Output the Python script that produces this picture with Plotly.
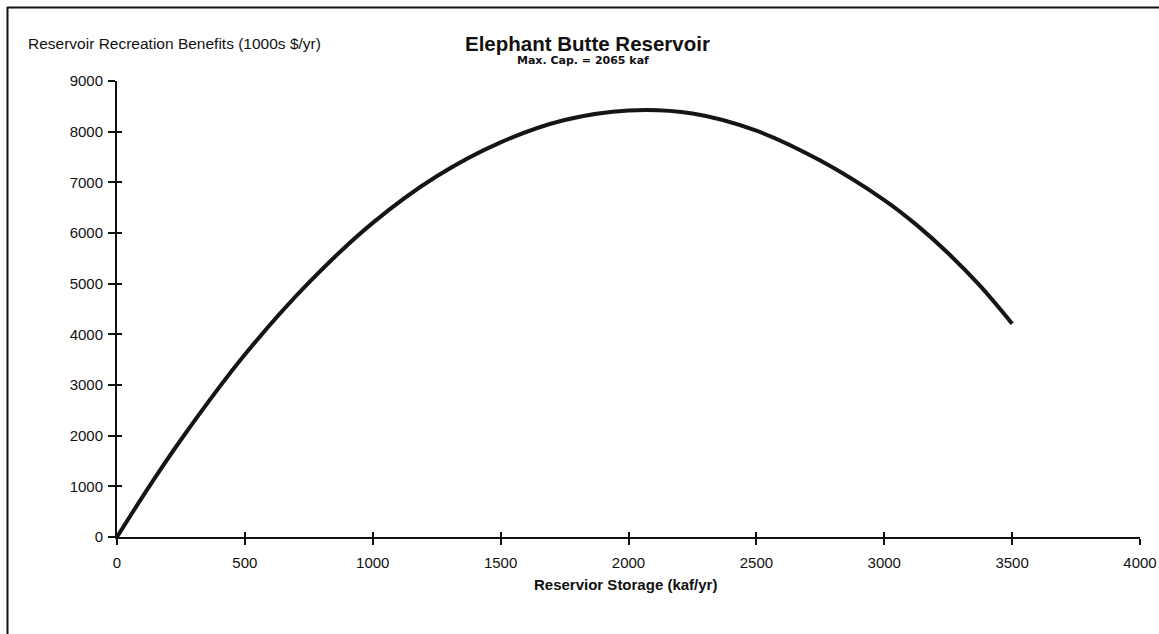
import plotly.graph_objects as go

# Data
storage_kaf = [0, 125, 250, 500, 750, 1000, 1250, 1500, 1750, 2000, 2250, 2500, 2750,
               3000, 3125, 3250, 3375, 3500]
benefits_k = [0, 990, 1920, 3600, 5020, 6200, 7120, 7790, 8230, 8420, 8360, 8020, 7430,
              6650, 6165, 5600, 4955, 4210]

x_ticks = [0, 500, 1000, 1500, 2000, 2500, 3000, 3500, 4000]
y_ticks = [0, 1000, 2000, 3000, 4000, 5000, 6000, 7000, 8000, 9000]

W, H = 1159, 634
L, R, T, B = 117, 19, 81, 97
PW, PH = W - L - R, H - T - B

def px(xp):
    return (xp - L) / PW

def py(yp):
    return (H - B - yp) / PH

FONT = "Liberation Sans, Arial, sans-serif"

fig = go.Figure()
fig.add_trace(go.Scatter(
    x=storage_kaf, y=benefits_k, mode="lines",
    line=dict(color="#151515", width=4, shape="spline", smoothing=1.0),
    showlegend=False, hoverinfo="x+y"))
# invisible trace for overlay axes (inside ticks so the ticks cross the axis)
fig.add_trace(go.Scatter(x=[0], y=[0], xaxis="x2", yaxis="y2", mode="markers",
                         marker=dict(opacity=0), showlegend=False, hoverinfo="skip"))

axis_common = dict(showgrid=False, zeroline=False, showline=True, linecolor="#111",
                   linewidth=2, tickcolor="#111", tickwidth=2, automargin=False)

fig.update_layout(
    width=W, height=H,
    margin=dict(l=L, r=R, t=T, b=B, autoexpand=False),
    paper_bgcolor="white", plot_bgcolor="white",
    font=dict(family=FONT, color="#111"),
    xaxis=dict(range=[0, 4000], tickvals=x_ticks, ticks="outside", ticklen=6,
               tickfont=dict(size=15, family=FONT),
               ticklabelstandoff=5, **axis_common),
    yaxis=dict(range=[0, 9000], tickvals=y_ticks, ticks="outside", ticklen=7,
               tickfont=dict(size=15, family=FONT),
               ticklabelstandoff=2, **axis_common),
    xaxis2=dict(range=[0, 4000], tickvals=x_ticks, ticks="inside", ticklen=5,
                showticklabels=False, overlaying="x", side="bottom", anchor="y2",
                **axis_common),
    yaxis2=dict(range=[0, 9000], tickvals=y_ticks, ticks="inside", ticklen=5,
                showticklabels=False, overlaying="y", side="left", anchor="x2",
                **axis_common),
)

annotations = [
    dict(text="Reservoir Recreation Benefits (1000s $/yr)", x=px(26), y=py(43),
         xanchor="left", yanchor="middle", font=dict(size=15.5, family=FONT)),
    dict(text="<b>Elephant Butte Reservoir</b>", x=px(587), y=py(44),
         xanchor="center", yanchor="middle", font=dict(size=20.5, family=FONT)),
    dict(text="<b>Max. Cap. = 2065 kaf</b>", x=px(583), y=py(60),
         xanchor="center", yanchor="middle",
         font=dict(size=11, family="DejaVu Sans, sans-serif")),
    dict(text="<b>Reservior Storage (kaf/yr)</b>", x=px(625), y=py(584),
         xanchor="center", yanchor="middle", font=dict(size=15, family=FONT)),
]
for a in annotations:
    a.update(xref="paper", yref="paper", showarrow=False)
fig.update_layout(annotations=annotations)

# outer frame (left and top edges visible)
fig.add_shape(type="line", xref="paper", yref="paper",
              x0=px(7), x1=px(1159), y0=py(7.5), y1=py(7.5),
              line=dict(color="#111", width=2))
fig.add_shape(type="line", xref="paper", yref="paper",
              x0=px(7.5), x1=px(7.5), y0=py(7), y1=py(634),
              line=dict(color="#111", width=2))

fig.write_html(
    "out.html",
    config={"displayModeBar": False},
    post_script=("document.body.style.margin='0px';"
                 "document.body.style.overflow='hidden';"
                 "document.documentElement.style.overflow='hidden';"),
)
